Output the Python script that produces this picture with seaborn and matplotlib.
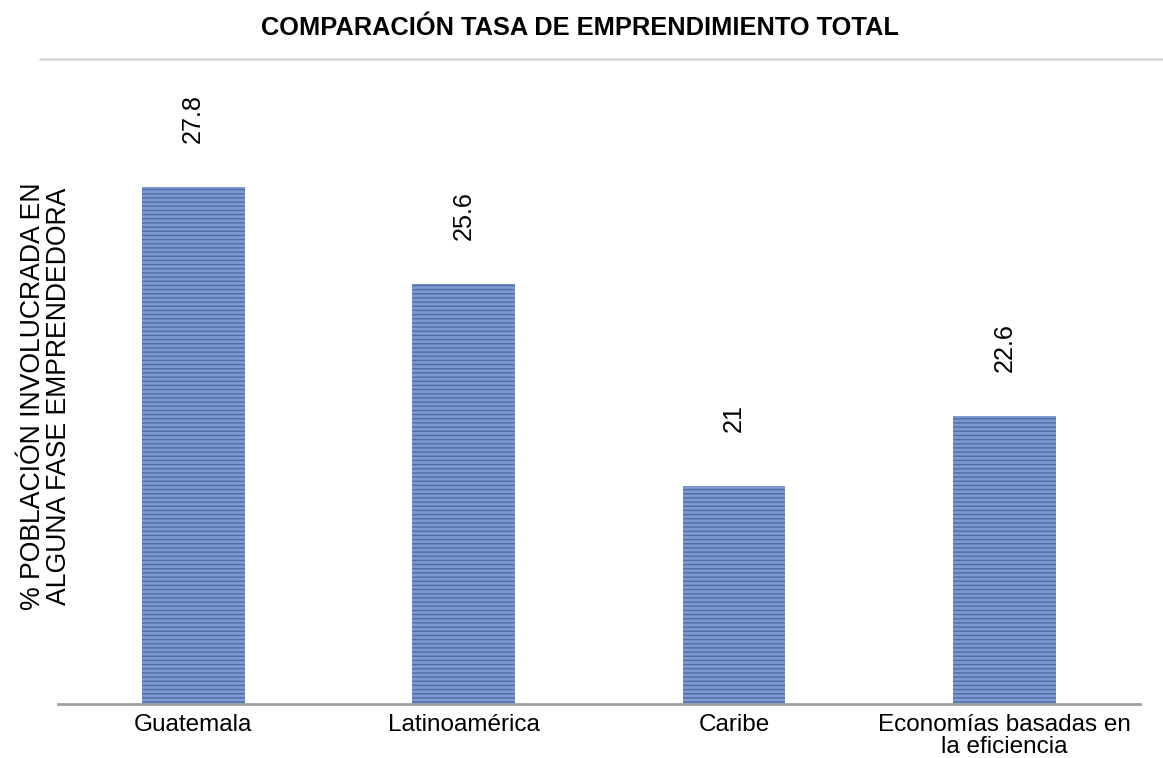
import matplotlib
matplotlib.use("Agg")
from matplotlib import pyplot as plt
from matplotlib.lines import Line2D
import seaborn as sns

# chart data
categorias = ["Guatemala", "Latinoamérica", "Caribe", "Economías basadas en\nla eficiencia"]
tasas = [27.8, 25.6, 21, 22.6]

sns.set_style("white")
plt.rcParams['font.family'] = ['Liberation Sans', 'DejaVu Sans']
plt.rcParams['text.color'] = 'black'
plt.rcParams['xtick.color'] = 'black'
plt.rcParams['axes.labelcolor'] = 'black'
plt.rcParams['hatch.linewidth'] = 1.0

fig = plt.figure(figsize=(11.63, 7.58), dpi=100)
ax = fig.add_axes([0.0499, 0.0712, 0.9301, 0.8508])

sns.barplot(x=categorias, y=tasas, color="#7d9ad0", width=0.38, saturation=1, ax=ax)

for p in ax.patches:
    p.set_hatch("----")
    p.set_edgecolor("#4f6dab")
    p.set_linewidth(0)

for i, v in enumerate(tasas):
    ax.annotate(f"{v:g}", (i, v), xytext=(0, 49), textcoords="offset points",
                ha="center", va="center", rotation=90, fontsize=18.2)

ax.set_ylim(16.05, 30.7)
ax.set_xlim(-0.5, 3.5)
ax.set_yticks([])
ax.set_ylabel("% POBLACIÓN INVOLUCRADA EN\nALGUNA FASE EMPRENDEDORA", fontsize=19.2, linespacing=1.0)
ax.yaxis.set_label_coords(0.0129, 0.4775)
ax.tick_params(axis="x", length=0, labelsize=17.5, pad=7)
for lbl in ax.get_xticklabels():
    lbl.set_linespacing(1.0)

for s in ["top", "left", "right"]:
    ax.spines[s].set_visible(False)
ax.spines["bottom"].set_color("#a0a0a0")
ax.spines["bottom"].set_linewidth(2)

# thin separator line under the title
fig.add_artist(Line2D([40 / 1163, 1.0], [1 - 59 / 758, 1 - 59 / 758], color="#dadada", lw=2,
                      transform=fig.transFigure))

fig.text(0.499, 1 - 28 / 758, "COMPARACIÓN TASA DE EMPRENDIMIENTO TOTAL", ha="center", va="center",
         fontsize=18.3, fontweight="bold")

fig.savefig("out.png", dpi=100, facecolor="white")
